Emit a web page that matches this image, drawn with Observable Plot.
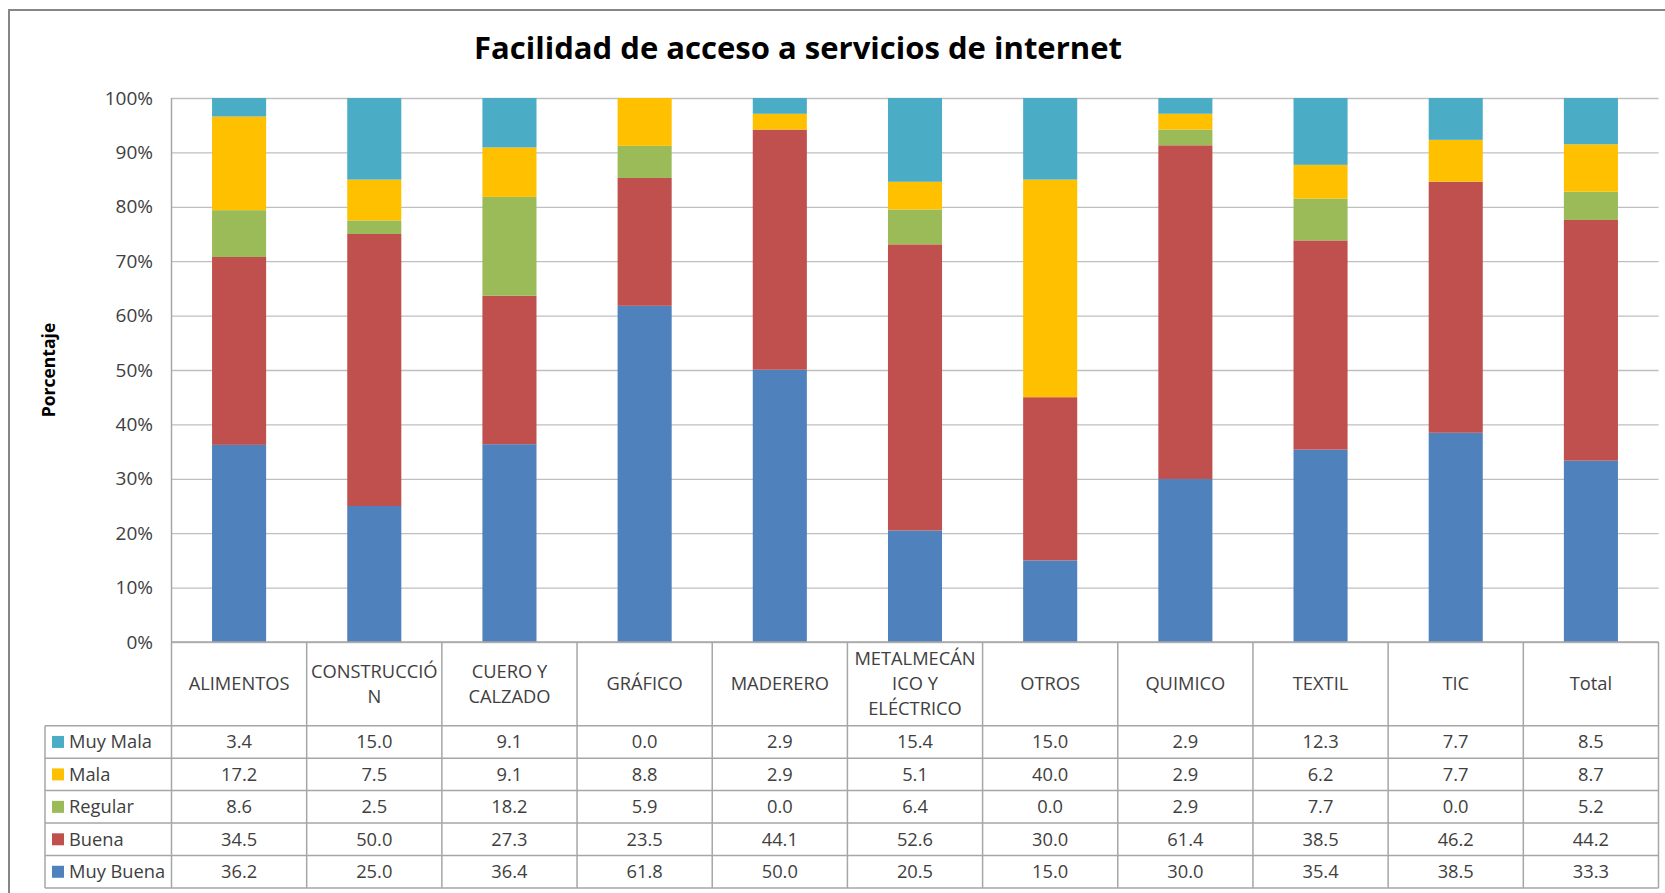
<!DOCTYPE html>
<html><head><meta charset="utf-8">
<script src="https://cdn.jsdelivr.net/npm/d3@7"></script>
<script src="https://cdn.jsdelivr.net/npm/@observablehq/plot@0.6"></script>
<style>
body{margin:0;background:#fff;}
#chart{position:relative;width:1665px;height:893px;overflow:hidden;background:#fff}
</style>
</head><body><div id="chart"></div>
<script>
const title = "Facilidad de acceso a servicios de internet";
const yLabel = "Porcentaje";
const categories = ["ALIMENTOS","CONSTRUCCIÓN","CUERO Y CALZADO","GRÁFICO","MADERERO","METALMECÁNICO Y ELÉCTRICO","OTROS","QUIMICO","TEXTIL","TIC","Total"];
const headerLines = [["ALIMENTOS"],["CONSTRUCCIÓ","N"],["CUERO Y","CALZADO"],["GRÁFICO"],["MADERERO"],["METALMECÁN","ICO Y","ELÉCTRICO"],["OTROS"],["QUIMICO"],["TEXTIL"],["TIC"],["Total"]];
const series = ["Muy Buena","Buena","Regular","Mala","Muy Mala"];
const colors = ["#4F81BD","#C0504D","#9BBB59","#FFC000","#4BACC6"];
const muyBuena = [36.2,25.0,36.4,61.8,50.0,20.5,15.0,30.0,35.4,38.5,33.3];
const buena    = [34.5,50.0,27.3,23.5,44.1,52.6,30.0,61.4,38.5,46.2,44.2];
const regular  = [8.6,2.5,18.2,5.9,0.0,6.4,0.0,2.9,7.7,0.0,5.2];
const mala     = [17.2,7.5,9.1,8.8,2.9,5.1,40.0,2.9,6.2,7.7,8.7];
const muyMala  = [3.4,15.0,9.1,0.0,2.9,15.4,15.0,2.9,12.3,7.7,8.5];
const yTicks = [0,0.1,0.2,0.3,0.4,0.5,0.6,0.7,0.8,0.9,1];

const seriesValues = [muyBuena, buena, regular, mala, muyMala];
const data = [];
series.forEach((s, si) => categories.forEach((c, ci) => data.push({cat: c, serie: s, value: seriesValues[si][ci]})));

const FONT = "'Open Sans', sans-serif";
const TXT = "#404040";
const FS = 18.3;
const W = 1665, H = 893;
const top0 = 98, bottom0 = 642;

const plot = Plot.plot({
  width: W, height: H,
  marginLeft: 171.5, marginRight: 6.5, marginTop: top0, marginBottom: H - bottom0,
  x: {domain: categories, paddingInner: 0.6, paddingOuter: 0.3, round: false, axis: null},
  y: {domain: [0, 1], axis: null},
  color: {domain: series, range: colors},
  style: {fontFamily: FONT, fontSize: "18px", color: TXT, background: "#fff"},
  marks: [
    Plot.gridY(yTicks, {stroke: "#bfbfbf", strokeOpacity: 1, strokeWidth: 1.3}),
    Plot.barY(data, Plot.stackY({offset: "normalize", order: series, x: "cat", y: "value", fill: "serie"})),
    Plot.axisY(yTicks, {tickFormat: d3.format(".0%"), tickSize: 0, tickPadding: 19, label: null, fontSize: 19, fill: TXT})
  ]
});

const svg = d3.select(plot);
const xs = plot.scale("x");
const step = xs.step, bw = xs.bandwidth;
const colCenter = c => xs.apply(c) + bw / 2;
const left = colCenter(categories[0]) - step / 2;
const right = colCenter(categories[categories.length - 1]) + step / 2;
const legendLeft = 45;
const headerBottom = 725.7;
const rowH = 32.46;
const tableBottom = headerBottom + rowH * 5;

const g = svg.append("g").attr("text-anchor", "start");
// outer border
g.append("rect").attr("x", 9).attr("y", 10).attr("width", 1700).attr("height", 1000)
  .attr("fill", "none").attr("stroke", "#868686").attr("stroke-width", 2);
// title
g.append("text").attr("x", 798).attr("y", 59).attr("text-anchor", "middle")
  .attr("font-family", FONT).attr("font-weight", "bold").attr("font-size", 30).attr("fill", "#000")
  .attr("textLength", 648).attr("lengthAdjust", "spacingAndGlyphs").text(title);
// y label
g.append("text").attr("transform", "translate(49,370) rotate(-90)").attr("text-anchor", "middle")
  .attr("dy", "0.35em").attr("font-family", FONT).attr("font-weight", "bold").attr("font-size", 17.5)
  .attr("fill", "#000").text(yLabel);

const lineColor = "#a6a6a6";
// axis line
g.append("line").attr("x1", left).attr("x2", left).attr("y1", top0).attr("y2", tableBottom)
  .attr("stroke", lineColor).attr("stroke-width", 1.5);
// table horizontal lines
g.append("line").attr("x1", left).attr("x2", right).attr("y1", bottom0).attr("y2", bottom0)
  .attr("stroke", lineColor).attr("stroke-width", 1.5);
for (let r = 0; r <= 5; r++) {
  const y = headerBottom + rowH * r;
  g.append("line").attr("x1", legendLeft).attr("x2", right).attr("y1", y).attr("y2", y)
    .attr("stroke", lineColor).attr("stroke-width", 1.5);
}
// vertical lines
g.append("line").attr("x1", legendLeft).attr("x2", legendLeft).attr("y1", headerBottom).attr("y2", tableBottom)
  .attr("stroke", lineColor).attr("stroke-width", 1.5);
categories.forEach(c => {
  const x = colCenter(c) + step / 2;
  g.append("line").attr("x1", x).attr("x2", x).attr("y1", bottom0).attr("y2", tableBottom)
    .attr("stroke", lineColor).attr("stroke-width", 1.5);
});
// header labels
const headerMid = (bottom0 + headerBottom) / 2;
categories.forEach((c, i) => {
  const lines = headerLines[i];
  const lh = 25;
  lines.forEach((ln, k) => {
    g.append("text").attr("x", colCenter(c)).attr("y", headerMid + (k - (lines.length - 1) / 2) * lh)
      .attr("dy", "0.35em").attr("text-anchor", "middle").attr("font-family", FONT)
      .attr("font-size", FS).attr("fill", TXT).text(ln);
  });
});
// rows (top: Muy Mala ... bottom: Muy Buena)
const rowOrder = [4, 3, 2, 1, 0];
rowOrder.forEach((si, r) => {
  const yc = headerBottom + rowH * r + rowH / 2;
  g.append("rect").attr("x", 52).attr("y", yc - 6).attr("width", 12).attr("height", 12).attr("fill", colors[si]);
  g.append("text").attr("x", 69).attr("y", yc).attr("dy", "0.35em").attr("text-anchor", "start")
    .attr("font-family", FONT).attr("font-size", FS).attr("fill", TXT).text(series[si]);
  categories.forEach((c, ci) => {
    g.append("text").attr("x", colCenter(c)).attr("y", yc).attr("dy", "0.35em").attr("text-anchor", "middle")
      .attr("font-family", FONT).attr("font-size", FS).attr("fill", TXT)
      .text(seriesValues[si][ci].toFixed(1));
  });
});

document.getElementById("chart").appendChild(plot);
</script>
</body></html>
